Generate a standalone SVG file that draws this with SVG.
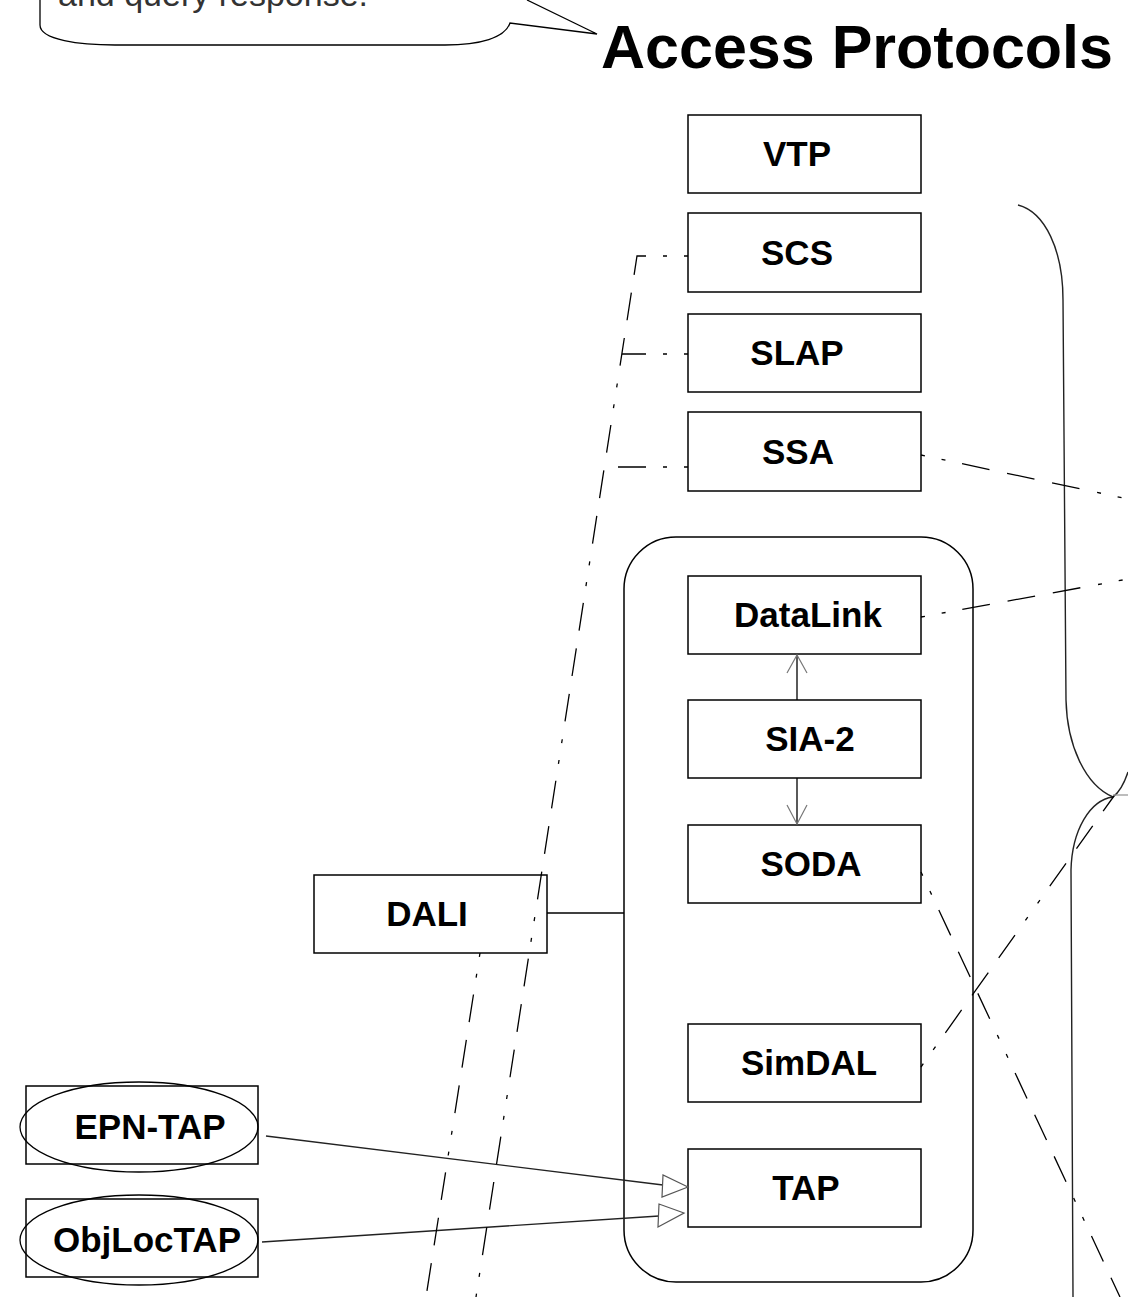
<svg xmlns="http://www.w3.org/2000/svg" width="1128" height="1297" viewBox="0 0 1128 1297">
<style>
.box{fill:#fff;stroke:#000;stroke-width:1.5}
.lbl{font-family:"Liberation Sans",Arial,Helvetica,sans-serif;font-weight:bold;font-size:35px;text-anchor:middle;fill:#000}
.dd{fill:none;stroke:#000;stroke-width:1.3;stroke-dasharray:4 17 4 17 28 18 28 18 28 18}
.solid{fill:none;stroke:#000;stroke-width:1.3}
.brace{fill:none;stroke:#222;stroke-width:1.4}
.head{fill:none;stroke:#777;stroke-width:1.2}
.tri{fill:#fff;stroke:#555;stroke-width:1.2}
</style>
<rect width="1128" height="1297" fill="#fff"/>
<g id="callout">
<path d="M40,0 V25 C40,40 80,45 115,45 H445 C480,45 505,38 510,23 L597,34 L527,0" fill="#fff" stroke="#000" stroke-width="1.3"/>
<text x="58" y="6" font-family="'Liberation Sans',Arial,sans-serif" font-size="34" fill="#333">and query response.</text>
</g>
<g id="title">
<text x="601" y="68" font-family="'Liberation Sans',Arial,sans-serif" font-weight="bold" font-size="61" fill="#000">Access Protocols</text>
</g>
<g id="braces">
<path class="brace" d="M1018,205 C1045,212 1063,250 1063,300 L1066,700 C1067,745 1085,785 1113,797"/>
<path class="brace" d="M1113,797 C1090,800 1072,830 1071,870 L1073,1297"/>
<path class="brace" d="M1113,797 Q1122,790 1128,772"/>
<path d="M1113,795 H1128" stroke="#999" stroke-width="1.3"/>
</g>
<g id="container">
<rect x="624" y="537" width="349" height="745" rx="52" ry="52" fill="none" stroke="#000" stroke-width="1.5"/>
</g>
<g id="node-vtp"><rect class="box" x="688" y="115" width="233" height="78"/><text class="lbl" x="797" y="166">VTP</text></g>
<g id="node-scs"><rect class="box" x="688" y="213" width="233" height="79"/><text class="lbl" x="797" y="265">SCS</text></g>
<g id="node-slap"><rect class="box" x="688" y="314" width="233" height="78"/><text class="lbl" x="797" y="365">SLAP</text></g>
<g id="node-ssa"><rect class="box" x="688" y="412" width="233" height="79"/><text class="lbl" x="798" y="464">SSA</text></g>
<g id="node-datalink"><rect class="box" x="688" y="576" width="233" height="78"/><text class="lbl" x="808" y="627">DataLink</text></g>
<g id="node-sia2"><rect class="box" x="688" y="700" width="233" height="78"/><text class="lbl" x="810" y="751">SIA-2</text></g>
<g id="node-soda"><rect class="box" x="688" y="825" width="233" height="78"/><text class="lbl" x="811" y="876">SODA</text></g>
<g id="node-simdal"><rect class="box" x="688" y="1024" width="233" height="78"/><text class="lbl" x="809" y="1075">SimDAL</text></g>
<g id="node-tap"><rect class="box" x="688" y="1149" width="233" height="78"/><text class="lbl" x="806" y="1200">TAP</text></g>
<g id="node-dali"><rect class="box" x="314" y="875" width="233" height="78"/><text class="lbl" x="427" y="926">DALI</text></g>
<g id="node-epntap"><rect class="box" x="26" y="1086" width="232" height="78"/><ellipse cx="139" cy="1127" rx="119" ry="45" fill="none" stroke="#000" stroke-width="1.3"/><text class="lbl" x="150" y="1139">EPN-TAP</text></g>
<g id="node-objloctap"><rect class="box" x="26" y="1199" width="232" height="78"/><ellipse cx="139" cy="1240" rx="119" ry="45" fill="none" stroke="#000" stroke-width="1.3"/><text class="lbl" x="147" y="1252">ObjLocTAP</text></g>
<g id="connectors">
<path class="solid" d="M797,700 V655"/>
<polyline class="head" points="787,673 797,655 807,673"/>
<path class="solid" d="M797,778 V824"/>
<polyline class="head" points="787,805 797,824 807,805"/>
<path class="solid" d="M547,913 H624"/>
<path d="M266,1136 L663,1185" stroke="#222" stroke-width="1.3" fill="none"/>
<polygon class="tri" points="688,1187 663,1175 662,1197"/>
<path d="M262,1242 L659,1216" stroke="#222" stroke-width="1.3" fill="none"/>
<polygon class="tri" points="684,1213 659,1204 658,1227"/>
<path class="dd" d="M688,256 H637 L476,1297"/>
<path class="dd" d="M688,354 H622"/>
<path class="dd" d="M688,467 H604"/>
<path class="dd" d="M480,953 L426,1297"/>
<path class="dd" d="M921,455 L1128,499"/>
<path class="dd" d="M921,617 L1128,579"/>
<path class="dd" d="M921,872 L1120,1297"/>
<path class="dd" d="M921,1067 L1114,796"/>
</g>
</svg>
